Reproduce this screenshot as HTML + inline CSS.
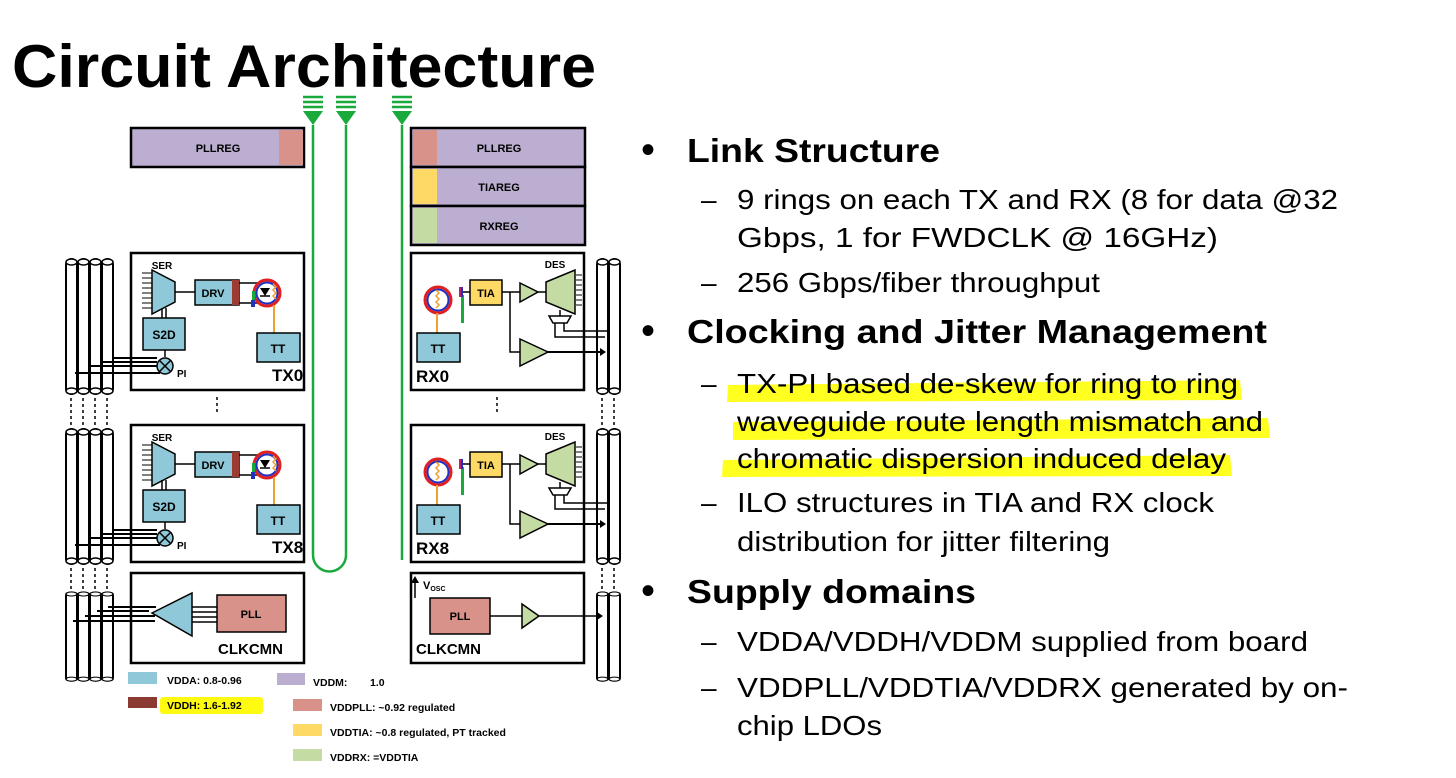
<!DOCTYPE html>
<html><head><meta charset="utf-8"><style>
html,body{margin:0;padding:0;background:#fff;}
svg{display:block;font-family:"Liberation Sans",Arial,sans-serif;}
.b{font-weight:bold;}
</style></head><body>
<svg width="1456" height="778" viewBox="0 0 1456 778" xmlns="http://www.w3.org/2000/svg">
<defs>
<g id="tube"><rect x="0" y="0" width="11" height="135" rx="5.5" fill="#fff" stroke="#000" stroke-width="2"/><ellipse cx="5.5" cy="3" rx="5.5" ry="3" fill="#fff" stroke="#000" stroke-width="1.5"/><ellipse cx="5.5" cy="132" rx="5.5" ry="3" fill="#fff" stroke="#000" stroke-width="1.5"/></g>
<g id="supply"><path d="M-10,0h20M-10,5h20M-10,10h20" stroke="#1aaa3c" stroke-width="2.5" fill="none"/><path d="M-10,14h20l-10,14z" fill="#1aaa3c"/></g>
<g id="tx">
 <rect x="131" y="253" width="173" height="137" fill="#fff" stroke="#000" stroke-width="2.5"/>
 <path d="M142,273h10M142,278h10M142,283h10M142,288h10M142,293h10M142,298h10M142,303h10M142,308h10" stroke="#000" stroke-width="1" fill="none"/>
 <path d="M152,270 L175,282 L175,302 L152,314 Z" fill="#8fc9d9" stroke="#000" stroke-width="1.5"/>
 <text x="162" y="269" font-size="10" class="b" text-anchor="middle">SER</text>
 <path d="M175,292h20M162,308v10M166,308v10" stroke="#000" stroke-width="1.5" fill="none"/>
 <rect x="195" y="280" width="44" height="25" fill="#8fc9d9" stroke="#000" stroke-width="1.5"/>
 <rect x="232" y="280" width="7" height="25" fill="#9b3b31"/>
 <text x="213" y="297" font-size="11" class="b" text-anchor="middle">DRV</text>
 <path d="M239,283h24M239,303h24" stroke="#000" stroke-width="1.5" fill="none"/>
 <circle cx="267" cy="293" r="13" fill="#fff" stroke="#e02020" stroke-width="3"/>
 <circle cx="267" cy="293" r="10.5" fill="none" stroke="#2030c0" stroke-width="2"/>
 <path d="M260,288h10l-5,8z" fill="#000"/><path d="M260,296h10" stroke="#000" stroke-width="1.5" fill="none"/>
 <path d="M273,284 l3,3 -3,3 3,3 -3,3 3,3" fill="none" stroke="#f0a030" stroke-width="1.5"/>
 <rect x="252" y="291" width="3" height="10" fill="#1aaa3c"/><rect x="251" y="300" width="4" height="7" fill="#2030c0"/>
 <path d="M274,305v28" stroke="#f0a030" stroke-width="2" fill="none"/>
 <rect x="257" y="333" width="43" height="29" fill="#8fc9d9" stroke="#000" stroke-width="1.5"/>
 <text x="278" y="353" font-size="12" class="b" text-anchor="middle">TT</text>
 <rect x="143" y="318" width="42" height="32" fill="#8fc9d9" stroke="#000" stroke-width="1.5"/>
 <text x="164" y="339" font-size="12" class="b" text-anchor="middle">S2D</text>
 <path d="M165,350v7" stroke="#000" stroke-width="1.5" fill="none"/>
 <path d="M112,358h45M100,362h57M88,366h70M75,373h85" stroke="#000" stroke-width="2" fill="none"/>
 <circle cx="165" cy="366" r="8" fill="#8fc9d9" stroke="#000" stroke-width="1.5"/>
 <path d="M159,360l12,12M171,360l-12,12" stroke="#000" stroke-width="1.5" fill="none"/>
 <text x="177" y="377" font-size="10" class="b">PI</text>
</g>
<g id="rx">
 <rect x="411" y="253" width="173" height="137" fill="#fff" stroke="#000" stroke-width="2.5"/>
 <circle cx="438" cy="300" r="13" fill="#fff" stroke="#e02020" stroke-width="3"/>
 <circle cx="438" cy="300" r="10.5" fill="none" stroke="#2030c0" stroke-width="2"/>
 <path d="M436,290 l3,3 -3,3 3,3 -3,3 3,3 -3,3" fill="none" stroke="#f0a030" stroke-width="1.5"/>
 <path d="M437,313v20" stroke="#f0a030" stroke-width="2" fill="none"/>
 <rect x="417" y="333" width="43" height="29" fill="#8fc9d9" stroke="#000" stroke-width="1.5"/>
 <text x="438" y="353" font-size="12" class="b" text-anchor="middle">TT</text>
 <rect x="461" y="295" width="3" height="28" fill="#1aaa3c"/><rect x="459" y="287" width="4" height="10" fill="#2030c0"/><rect x="459" y="287" width="2" height="10" fill="#c02060"/>
 <path d="M463,292h7" stroke="#000" stroke-width="1.5" fill="none"/>
 <rect x="470" y="280" width="32" height="25" fill="#ffd966" stroke="#000" stroke-width="1.5"/>
 <text x="486" y="297" font-size="11" class="b" text-anchor="middle">TIA</text>
 <path d="M502,292h18M510,292v60h10M538,292h8M560,310v6" stroke="#000" stroke-width="1.5" fill="none"/>
 <path d="M520,283 L538,292 L520,302 Z" fill="#c5dba4" stroke="#000" stroke-width="1.5"/>
 <path d="M520,339 L548,352 L520,366 Z" fill="#c5dba4" stroke="#000" stroke-width="1.5"/>
 <path d="M548,352h52" stroke="#000" stroke-width="2" fill="none"/><path d="M600,348l6,4-6,4z"/>
 <path d="M546,282 L575,270 L575,314 L546,302 Z" fill="#c5dba4" stroke="#000" stroke-width="1.5"/>
 <path d="M576,275h6M576,280h6M576,285h6M576,290h6M576,295h6M576,300h6M576,305h6" stroke="#000" stroke-width="1" fill="none"/>
 <text x="555" y="268" font-size="10" class="b" text-anchor="middle">DES</text>
 <path d="M549,316h22l-4,7h-14z" fill="#fff" stroke="#000" stroke-width="1.5"/>
 <path d="M555,323v14h50M564,323v8h44" stroke="#000" stroke-width="1.5" fill="none"/>
</g>
</defs>

<text x="12" y="87" font-size="60" class="b" textLength="584" lengthAdjust="spacingAndGlyphs">Circuit Architecture</text>

<use href="#supply" x="313" y="97"/><use href="#supply" x="346" y="97"/><use href="#supply" x="402" y="97"/>
<path d="M313,125 V555 A16.5,16.5 0 0 0 346,555 V125" fill="none" stroke="#1aaa3c" stroke-width="2.5"/>
<path d="M402,125 V560" stroke="#1aaa3c" stroke-width="2.5" fill="none"/>

<rect x="131" y="128" width="173" height="39" fill="#bcaed0" stroke="#000" stroke-width="2.5"/>
<rect x="279" y="130" width="24" height="35" fill="#d9928a"/>
<text x="218" y="152" font-size="11" class="b" text-anchor="middle">PLLREG</text>
<rect x="411" y="128" width="174" height="39" fill="#bcaed0" stroke="#000" stroke-width="2.5"/>
<rect x="413" y="130" width="24" height="35" fill="#d9928a"/>
<text x="499" y="152" font-size="11" class="b" text-anchor="middle">PLLREG</text>
<rect x="411" y="167" width="174" height="39" fill="#bcaed0" stroke="#000" stroke-width="2.5"/>
<rect x="413" y="169" width="24" height="35" fill="#ffd966"/>
<text x="499" y="191" font-size="11" class="b" text-anchor="middle">TIAREG</text>
<rect x="411" y="206" width="174" height="39" fill="#bcaed0" stroke="#000" stroke-width="2.5"/>
<rect x="413" y="208" width="24" height="35" fill="#c5dba4"/>
<text x="499" y="230" font-size="11" class="b" text-anchor="middle">RXREG</text>

<g>
<use href="#tube" x="66" y="259"/><use href="#tube" x="78" y="259"/><use href="#tube" x="90" y="259"/><use href="#tube" x="102" y="259"/>
<use href="#tube" x="66" y="429"/><use href="#tube" x="78" y="429"/><use href="#tube" x="90" y="429"/><use href="#tube" x="102" y="429"/>
<g transform="translate(0,592) scale(1,0.66)"><use href="#tube" x="66" y="0"/><use href="#tube" x="78" y="0"/><use href="#tube" x="90" y="0"/><use href="#tube" x="102" y="0"/></g>
<use href="#tube" x="597" y="259"/><use href="#tube" x="609" y="259"/>
<use href="#tube" x="597" y="429"/><use href="#tube" x="609" y="429"/>
<g transform="translate(0,592) scale(1,0.66)"><use href="#tube" x="597" y="0"/><use href="#tube" x="609" y="0"/></g>
<path d="M71,398v28M83,398v28M95,398v28M107,398v28M71,568v22M83,568v22M95,568v22M107,568v22M602,398v28M614,398v28M602,568v22M614,568v22M217,397v18M497,397v18" stroke="#000" stroke-width="1.5" stroke-dasharray="3,3" fill="none"/>
</g>

<use href="#tx"/>
<text x="272" y="381" font-size="17" class="b">TX0</text>
<use href="#tx" y="172"/>
<text x="272" y="553" font-size="17" class="b">TX8</text>
<use href="#rx"/>
<text x="416" y="382" font-size="17" class="b">RX0</text>
<use href="#rx" y="172"/>
<text x="416" y="554" font-size="17" class="b">RX8</text>

<rect x="131" y="573" width="173" height="90" fill="#fff" stroke="#000" stroke-width="2.5"/>
<path d="M108,607h48M97,611h52M85,616h70M73,621h82" stroke="#000" stroke-width="2" fill="none"/>
<path d="M152,613 L192,593 L192,636 Z" fill="#8fc9d9" stroke="#000" stroke-width="1.5"/>
<path d="M192,607h25M192,612h25M192,617h25M192,622h25" stroke="#000" stroke-width="1.5" fill="none"/>
<rect x="217" y="595" width="69" height="37" fill="#d9928a" stroke="#000" stroke-width="1.5"/>
<text x="251" y="618" font-size="11" class="b" text-anchor="middle">PLL</text>
<text x="218" y="654" font-size="15" class="b">CLKCMN</text>

<rect x="411" y="573" width="173" height="90" fill="#fff" stroke="#000" stroke-width="2.5"/>
<path d="M415,598v-18" stroke="#000" stroke-width="1.5" fill="none"/><path d="M411,583l4,-7 4,7z"/>
<text x="423" y="589" font-size="11" class="b">V<tspan font-size="7" dy="2">OSC</tspan></text>
<rect x="430" y="598" width="60" height="36" fill="#d9928a" stroke="#000" stroke-width="1.5"/>
<text x="460" y="620" font-size="11" class="b" text-anchor="middle">PLL</text>
<path d="M490,616h32M537,616h62" stroke="#000" stroke-width="1.5" fill="none"/><path d="M597,612l6,4-6,4z"/>
<path d="M522,604 L539,616 L522,628 Z" fill="#c5dba4" stroke="#000" stroke-width="1.5"/>
<text x="416" y="654" font-size="15" class="b">CLKCMN</text>

<!-- legend -->
<rect x="128" y="672" width="29" height="12" fill="#8fc9d9"/>
<text x="167" y="684" font-size="10.5" class="b">VDDA:  0.8-0.96</text>
<rect x="128" y="697" width="29" height="11" fill="#8a3a30"/>
<rect x="160" y="697" width="103" height="17" fill="#fffb10" rx="3"/>
<text x="167" y="709" font-size="10.5" class="b">VDDH:  1.6-1.92</text>
<rect x="277" y="673" width="28" height="12" fill="#bcaed0"/>
<text x="313" y="686" font-size="10.5" class="b">VDDM:</text><text x="370" y="686" font-size="10.5" class="b">1.0</text>
<rect x="293" y="699" width="29" height="12" fill="#d9928a"/>
<text x="330" y="711" font-size="10.5" class="b">VDDPLL: ~0.92 regulated</text>
<rect x="293" y="724" width="29" height="12" fill="#ffd966"/>
<text x="330" y="736" font-size="10.5" class="b">VDDTIA: ~0.8  regulated, PT tracked</text>
<rect x="293" y="749" width="29" height="12" fill="#c5dba4"/>
<text x="330" y="761" font-size="10.5" class="b">VDDRX:  =VDDTIA</text>

<path d="M728,385 L1240,380 L1242,400 L727,402 Z M733,422 L1268,418 L1270,438 L733,440 Z M723,460 L1230,455 L1232,476 L722,477 Z" fill="#ffff20"/>

<g font-size="33">
<text x="641" y="163" font-size="40">•</text><text x="687" y="162" class="b" textLength="253" lengthAdjust="spacingAndGlyphs">Link Structure</text>
<text x="641" y="344" font-size="40">•</text><text x="687" y="343" class="b" textLength="580" lengthAdjust="spacingAndGlyphs">Clocking and Jitter Management</text>
<text x="641" y="604" font-size="40">•</text><text x="687" y="603" class="b" textLength="289" lengthAdjust="spacingAndGlyphs">Supply domains</text>
</g>
<g font-size="28">
<text x="701" y="209">–</text><text x="737" y="209" textLength="601" lengthAdjust="spacingAndGlyphs">9 rings on each TX and RX (8 for data @32</text>
<text x="737" y="247" textLength="481" lengthAdjust="spacingAndGlyphs">Gbps, 1 for FWDCLK @ 16GHz)</text>
<text x="701" y="292">–</text><text x="737" y="292" textLength="363" lengthAdjust="spacingAndGlyphs">256 Gbps/fiber throughput</text>
<text x="701" y="393">–</text><text x="737" y="393" textLength="501" lengthAdjust="spacingAndGlyphs">TX-PI based de-skew for ring to ring</text>
<text x="737" y="431" textLength="526" lengthAdjust="spacingAndGlyphs">waveguide route length mismatch and</text>
<text x="737" y="468" textLength="489" lengthAdjust="spacingAndGlyphs">chromatic dispersion induced delay</text>
<text x="701" y="512">–</text><text x="737" y="512" textLength="477" lengthAdjust="spacingAndGlyphs">ILO structures in TIA and RX clock</text>
<text x="737" y="551" textLength="373" lengthAdjust="spacingAndGlyphs">distribution for jitter filtering</text>
<text x="701" y="651">–</text><text x="737" y="651" textLength="571" lengthAdjust="spacingAndGlyphs">VDDA/VDDH/VDDM supplied from board</text>
<text x="701" y="697">–</text><text x="737" y="697" textLength="611" lengthAdjust="spacingAndGlyphs">VDDPLL/VDDTIA/VDDRX generated by on-</text>
<text x="737" y="735" textLength="145" lengthAdjust="spacingAndGlyphs">chip LDOs</text>
</g>
</svg>
</body></html>
